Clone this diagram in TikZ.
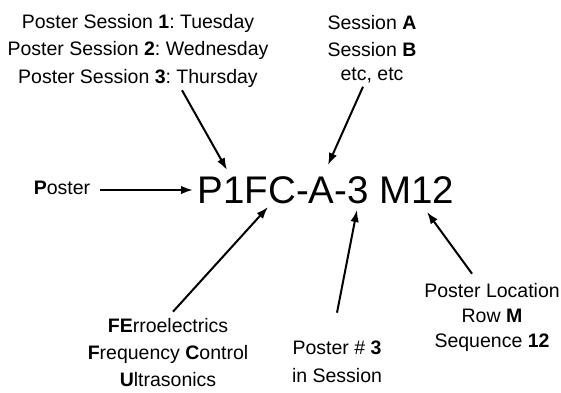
\documentclass[tikz,border=0pt]{standalone}
\usepackage{fontspec}
\setmainfont{Liberation Sans}
\usetikzlibrary{arrows.meta,calc}
\frenchspacing

\begin{document}
\begin{tikzpicture}[x=1pt,y=-1pt,
    lbl/.style={inner sep=0pt, align=center, font=\fontsize{19.5}{27.5}\selectfont},
    code/.style={inner sep=0pt, font=\fontsize{38.5}{40}\selectfont},
    arr/.style={line width=2pt, -{Latex[length=12pt,width=8.5pt]}}]
  \useasboundingbox (0,0) rectangle (561,392);

  % The poster code itself
  \node[code, anchor=base] (code) at (326,203) {P1FC-A-3 M12};

  % Points on the code where the arrows end
  \coordinate (tipW) at (193,190);
  \coordinate (tipP) at (227,170);
  \coordinate (tipA) at (328,165);
  \coordinate (tipFC) at (268,207);
  \coordinate (tip3) at (357,210);
  \coordinate (tipM) at (427,212);

  % Explanations (anchored at the baseline of their last line)
  \node[lbl, anchor=base] (sess) at (138,83) {Poster Session \textbf{1}: Tuesday\\Poster Session \textbf{2}: Wednesday\\Poster Session \textbf{3}: Thursday};
  \node[lbl, anchor=base] (room) at (372,80) {Session \textbf{A}\\Session \textbf{B}\\[-4pt]etc, etc};
  \node[lbl, anchor=base] (post) at (62,194) {\textbf{P}oster};
  \node[lbl, anchor=base] (area) at (168,386) {\textbf{FE}rroelectrics\\[-0.5pt]\textbf{F}requency \textbf{C}ontrol\\[-0.5pt]\textbf{U}ltrasonics};
  \node[lbl, anchor=base] (num) at (337,382) {Poster \# \textbf{3}\\in Session};
  \node[lbl, anchor=base] (loc) at (492,347) {Poster Location\\[-2.5pt]Row \textbf{M}\\[-2.5pt]Sequence \textbf{12}};

  % Arrows
  \draw[arr] ($(post.east |- tipW)+(10,0)$) -- (tipW);
  \draw[arr] ($(sess.south)+(44,3)$) -- (tipP);
  \draw[arr] ($(room.south)+(-9,4)$) -- (tipA);
  \draw[arr] ($(area.north)+(5,-6)$) -- (tipFC);
  \draw[arr] ($(num.north)+(0,-28)$) -- (tip3);
  \draw[arr] ($(loc.north)+(-20,-9)$) -- (tipM);
\end{tikzpicture}
\end{document}
